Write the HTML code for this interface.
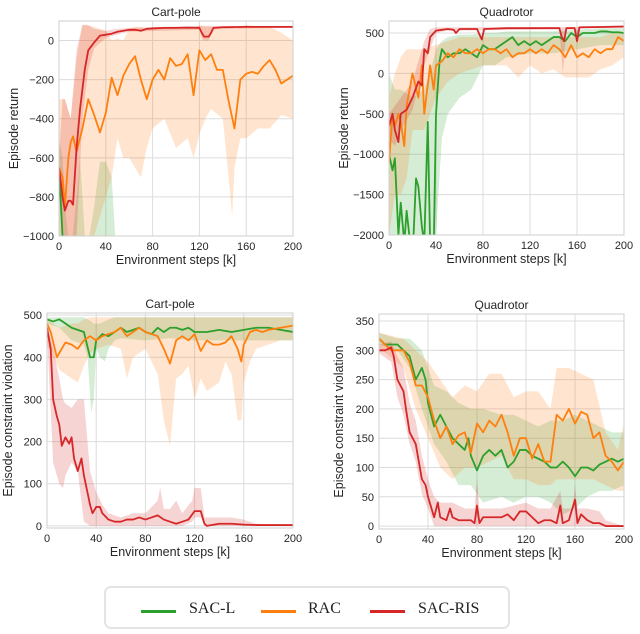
<!DOCTYPE html>
<html><head><meta charset="utf-8">
<style>
body{margin:0;background:#fff;width:640px;height:634px;overflow:hidden;font-family:"Liberation Sans",sans-serif;}
svg text{font-family:"Liberation Sans",sans-serif;fill:#262626;}
#legend{position:absolute;left:104px;top:586px;width:406px;height:43px;border:2px solid #e4e4e4;border-radius:7px;box-sizing:border-box;}
.li{position:absolute;top:0;height:43px;}
.ln{position:absolute;top:22px;width:35px;height:3px;}
.lt{position:absolute;top:12px;font-family:"Liberation Serif",serif;font-size:16px;color:#222;white-space:nowrap;}
</style></head>
<body>
<svg id="chart" width="640" height="634" style="position:absolute;left:0;top:0"></svg>
<div id="legend">
  <div class="ln" style="left:35px;background:#2ca02c"></div>
  <div class="lt" style="left:83px">SAC-L</div>
  <div class="ln" style="left:155px;background:#ff7f0e"></div>
  <div class="lt" style="left:202px">RAC</div>
  <div class="ln" style="left:264px;background:#d62728"></div>
  <div class="lt" style="left:312px">SAC-RIS</div>
</div>
<script>
// ---------- Cart-pole return ----------
const tlRedX=[0,3,5,8,10,12,15,18,20,22,25,30,35,40,45,50,55,60,65,70,75,80,90,100,110,120,122,124,128,130,132,140,160,180,200];
const tlRedY=[-650,-800,-870,-820,-820,-840,-550,-350,-250,-150,-50,-10,25,30,35,45,50,55,55,50,60,62,65,65,66,65,40,20,20,40,65,68,70,70,70];
const tlRedBX=[0,3,5,10,15,20,25,30,40,50,60,120,123,128,131,140,200];
const tlRedLo=[-700,-1000,-1000,-1000,-1000,-400,-150,-40,15,30,45,55,0,0,55,60,65];
const tlRedHi=[-600,-300,-300,-400,-50,80,80,60,50,60,65,75,75,75,75,75,75];
const tlOrX=[0,3,5,8,10,12,15,20,25,30,35,40,45,50,55,60,65,70,75,80,85,90,95,100,105,110,115,120,125,130,135,140,145,150,155,160,165,170,175,180,185,190,195,200];
const tlOrY=[-650,-700,-850,-600,-520,-490,-570,-450,-300,-380,-470,-370,-190,-280,-180,-120,-80,-200,-300,-200,-150,-200,-90,-130,-120,-70,-280,-50,-100,-70,-150,-150,-310,-450,-200,-170,-160,-170,-130,-100,-150,-220,-200,-180];
const tlOrBX=[0,5,10,15,20,30,40,45,50,55,60,65,70,75,80,90,100,110,115,120,125,130,140,145,148,150,155,160,170,180,190,200];
const tlOrLo=[-1000,-1000,-1000,-1000,-1000,-1000,-800,-700,-500,-600,-600,-650,-700,-550,-450,-400,-550,-500,-600,-480,-400,-350,-400,-700,-900,-650,-500,-500,-450,-450,-380,-400];
const tlOrHi=[-300,-300,-400,-100,80,70,50,0,10,0,60,70,70,60,70,70,70,70,60,80,70,70,60,70,70,60,70,80,70,70,40,0];
const tlGrX=[0,3,5,200];
const tlGrY=[-650,-1000,-1200,-1500];
const tlGrBX=[0,3,6,10,15,18,22,26,30,35,40,45,48,50,200];
const tlGrLo=[-900,-1500,-1500,-1500,-1500,-1500,-1500,-1500,-1500,-1500,-1500,-1500,-1500,-1500,-1500];
const tlGrHi=[-500,-600,-900,-1100,-800,-600,-1000,-1000,-850,-620,-620,-700,-1000,-1100,-1500];
// ---------- Quadrotor return ----------
const trRedX=[0,3,5,8,10,15,20,25,28,30,33,35,40,45,50,55,57,60,75,77,79,81,90,100,120,145,147,149,151,158,160,162,180,200];
const trRedY=[-650,-500,-700,-850,-500,-450,-300,-100,-150,300,250,450,530,540,550,540,500,550,550,480,420,550,555,560,560,560,450,400,560,560,400,570,575,580];
const trRedBX=[0,5,10,20,30,35,40,50,60,145,148,151,158,160,163,200];
const trRedLo=[-800,-900,-700,-450,100,300,500,530,530,550,0,550,550,350,560,570];
const trRedHi=[-500,-400,-300,-100,400,550,570,570,570,575,575,575,575,575,585,590];
const trOrX=[0,3,5,8,10,13,15,20,25,28,30,35,38,40,45,50,55,60,65,70,75,80,85,90,95,100,105,110,115,120,125,130,135,140,145,150,155,160,165,170,175,180,185,190,195,200];
const trOrY=[-1100,-500,-650,-500,-600,-900,-400,0,-300,100,-500,100,-200,100,150,250,200,300,250,250,300,250,300,300,250,300,200,250,250,300,250,300,250,350,300,200,350,200,250,200,300,250,300,300,450,400];
const trOrBX=[0,5,10,15,20,30,40,50,60,70,80,90,100,110,120,130,140,150,160,170,180,190,200];
const trOrLo=[-2000,-1500,-1500,-1300,-700,-700,-300,-100,0,50,100,100,100,-50,100,0,50,-50,-50,-50,50,100,200];
const trOrHi=[-300,0,200,300,300,300,350,400,450,450,450,450,450,450,450,450,450,450,450,450,450,500,500];
const trGrX=[0,3,5,8,10,13,15,18,20,23,25,28,30,33,35,38,40,43,45,50,55,60,65,70,75,80,85,90,95,100,105,110,115,120,125,130,135,140,145,150,155,160,165,170,175,180,185,190,195,200];
const trGrY=[-1000,-1200,-1050,-2000,-1600,-2100,-1700,-2100,-2300,-1300,-1400,-1900,-2100,-600,-2100,-2200,-500,150,300,200,250,250,300,250,200,350,300,300,350,400,450,350,400,350,400,350,400,450,450,400,500,450,500,500,500,520,520,510,510,500];
const trGrBX=[0,5,10,20,30,35,40,45,50,60,70,80,90,100,120,140,160,180,200];
const trGrLo=[-2000,-2000,-2000,-2000,-2000,-2000,-2000,-800,-500,-300,-200,100,100,200,250,250,300,350,350];
const trGrHi=[0,-200,-200,-300,-200,0,300,400,450,480,480,500,500,520,520,520,540,560,560];
// ---------- Cart-pole violation ----------
const blGrX=[0,5,10,15,20,25,30,35,38,40,45,50,55,60,65,70,75,80,85,90,95,100,105,110,115,120,130,140,150,160,170,180,190,200];
const blGrY=[490,485,490,480,470,465,460,400,400,440,455,450,460,470,460,465,470,460,455,470,460,470,470,465,470,460,460,465,460,465,470,470,465,460];
const blGrBX=[0,10,20,30,33,36,38,40,43,47,50,55,60,80,100,120,140,160,180,200];
const blGrLo=[480,470,440,430,400,270,300,420,400,390,420,440,445,440,445,440,440,440,440,440];
const blGrHi=[495,495,495,495,490,485,480,480,480,485,490,495,495,495,495,495,495,495,495,495];
const blOrX=[0,3,8,12,15,20,25,30,35,40,45,50,55,60,65,70,75,80,85,90,95,100,105,110,115,120,125,130,135,140,145,150,155,158,160,165,170,175,180,190,200];
const blOrY=[480,460,400,420,435,430,420,440,450,440,450,455,460,470,450,460,470,460,455,450,420,385,440,450,440,455,415,440,430,430,435,450,420,390,430,460,465,460,465,470,475];
const blOrBX=[0,10,20,25,30,35,40,50,60,65,70,80,90,95,100,105,110,115,120,125,130,140,145,150,155,158,160,165,170,180,190,200];
const blOrLo=[430,370,350,340,380,410,420,430,420,350,400,420,360,250,190,350,360,380,300,350,320,340,390,360,250,250,340,390,420,430,440,440];
const blOrHi=[490,470,480,480,490,495,495,495,495,495,495,495,495,495,495,495,495,495,495,495,495,495,495,495,495,495,495,495,495,495,495,495];
const blRedX=[0,3,5,8,10,12,15,18,20,22,25,28,30,35,37,40,43,45,50,55,60,65,70,75,80,85,90,95,100,105,110,115,120,125,128,130,140,150,160,170,200];
const blRedY=[470,420,300,260,240,190,210,195,210,160,130,160,120,50,30,45,45,30,15,10,10,15,15,20,15,20,25,15,10,5,10,15,35,35,5,0,5,5,3,2,2];
const blRedBX=[0,5,10,13,15,20,25,30,35,40,45,50,60,70,80,90,92,95,100,105,110,118,120,125,128,140,150,160,170,200];
const blRedLo=[460,150,100,90,120,150,130,10,0,0,0,0,0,0,0,0,0,0,0,0,0,10,20,20,0,0,0,0,0,0];
const blRedHi=[475,420,350,300,290,280,300,300,130,80,50,30,20,30,30,60,90,40,40,60,30,60,90,90,20,20,20,15,5,2];
// ---------- Quadrotor violation ----------
const brRedX=[0,5,10,12,15,20,22,25,30,35,38,40,45,48,50,55,58,60,65,70,75,78,80,82,85,90,95,100,105,110,115,120,125,130,135,140,145,148,150,155,160,162,165,170,175,180,185,200];
const brRedY=[300,300,305,290,250,230,200,160,140,80,70,50,15,40,15,10,30,15,10,10,10,5,35,5,15,15,15,15,20,10,25,25,15,5,10,10,5,35,5,10,45,5,20,10,5,5,0,0];
const brRedBX=[0,10,15,20,25,30,35,40,45,50,60,70,78,80,82,90,100,110,120,130,140,148,150,158,160,162,170,180,185,200];
const brRedLo=[295,280,220,190,140,110,55,30,0,0,0,0,0,0,0,0,0,0,0,0,0,0,0,0,0,0,0,0,0,0];
const brRedHi=[310,315,290,270,210,180,120,80,50,40,40,30,30,80,30,30,30,35,40,30,30,60,30,30,70,30,30,25,10,0];
const brOrX=[0,5,10,15,20,25,30,35,40,45,50,55,60,65,70,75,80,85,90,95,100,105,110,115,120,125,130,135,140,145,150,155,160,165,170,175,180,185,190,195,200];
const brOrY=[320,310,300,300,300,280,240,240,220,180,150,170,140,155,160,125,175,160,180,170,190,160,120,150,150,115,140,110,110,190,180,200,175,195,190,150,160,120,110,95,110];
const brOrBX=[0,20,30,40,50,60,70,80,90,100,110,120,130,140,145,155,165,175,185,195,200];
const brOrLo=[305,270,200,150,100,80,100,100,110,120,80,80,70,70,80,80,80,80,70,60,60];
const brOrHi=[330,320,300,280,250,220,240,230,260,260,220,230,230,200,270,270,260,250,160,130,175];
const brGrX=[0,5,10,15,20,25,30,35,38,40,45,50,55,60,65,70,73,75,80,85,90,95,100,105,110,115,120,125,130,135,140,145,150,155,160,165,170,175,180,185,190,195,200];
const brGrY=[320,310,310,310,300,290,250,270,250,210,170,190,170,150,140,130,150,120,95,120,130,120,130,100,110,130,130,120,115,110,100,100,110,100,85,100,100,95,105,110,115,110,115];
const brGrBX=[0,15,25,35,45,55,65,75,85,100,110,120,130,140,150,160,170,180,190,200];
const brGrLo=[310,300,270,200,140,110,70,70,40,50,40,50,50,40,20,30,50,60,60,70];
const brGrHi=[330,320,320,300,240,230,210,200,200,190,190,180,170,180,180,190,180,170,160,160];
// tick labels
const xTicks=[0,40,80,120,160,200];
const tlYTicks=[-1000,-800,-600,-400,-200,0];
const trYTicks=[-2000,-1500,-1000,-500,0,500];
const blYTicks=[0,100,200,300,400,500];
const brYTicks=[0,50,100,150,200,250,300,350];

const NS='http://www.w3.org/2000/svg';
const svg=document.getElementById('chart');
function mk(tag,attrs,parent){const e=document.createElementNS(NS,tag);for(const k in attrs)e.setAttribute(k,attrs[k]);(parent||svg).appendChild(e);return e;}
const C={g:'#2ca02c',o:'#ff7f0e',r:'#d62728'};
function panel(id,cfg){
  const {x0,x1,yT,yB,d0,d1,yticks,title,ylabel,ylx,series}=cfg;
  const sx=v=>x0+(v/200)*(x1-x0);
  const sy=v=>yB-(v-d0)/(d1-d0)*(yB-yT);
  const g=mk('g',{});
  
  
  const cp=mk('clipPath',{id:id+'-clip'},g);
  mk('rect',{x:x0,y:yT,width:x1-x0,height:yB-yT},cp);
  xTicks.forEach(t=>{
    const l=mk('line',{x1:sx(t),x2:sx(t),y1:yT,y2:yB,stroke:'#dcdcdc','stroke-width':1},g);
    
    
    const tx=mk('text',{x:sx(t),y:yB+14,'text-anchor':'middle','font-size':11},g);
    
    
    tx.textContent=t;
  });
  yticks.forEach(t=>{
    const l=mk('line',{x1:x0,x2:x1,y1:sy(t),y2:sy(t),stroke:'#dcdcdc','stroke-width':1},g);
    
    
    const tx=mk('text',{x:x0-5,y:sy(t)+4,'text-anchor':'end','font-size':11},g);
    
    
    tx.textContent=String(t).replace('-','\u2212');
  });
  const dg=mk('g',{'clip-path':'url(#'+id+'-clip)'},g);
  series.forEach(s=>{
    let d='M'+s.bx.map((v,i)=>sx(v)+','+sy(s.hi[i])).join('L');
    for(let i=s.bx.length-1;i>=0;i--)d+='L'+sx(s.bx[i])+','+sy(s.lo[i]);
    const b=mk('path',{d:d+'Z',fill:C[s.c],'fill-opacity':0.2,stroke:'none'},dg);
    
    
  });
  series.forEach(s=>{
    const p=mk('path',{d:'M'+s.x.map((v,i)=>sx(v)+','+sy(s.y[i])).join('L'),fill:'none',stroke:C[s.c],'stroke-width':1.8,'stroke-linejoin':'round'},dg);
    
    
  });
  const fr=mk('rect',{x:x0,y:yT,width:x1-x0,height:yB-yT,fill:'none',stroke:'#cfcfcf','stroke-width':1},g);
  
  
  const tt=mk('text',{x:(x0+x1)/2,y:yT-5,'text-anchor':'middle','font-size':12},g);
  
  
  tt.textContent=title;
  const xl=mk('text',{x:(x0+x1)/2,y:yB+28,'text-anchor':'middle','font-size':12.5},g);
  
  
  xl.textContent='Environment steps [k]';
  const yc=(yT+yB)/2;
  const yl=mk('text',{x:ylx,y:yc,'text-anchor':'middle','font-size':12.5,transform:'rotate(-90 '+ylx+' '+yc+')'},g);
  
  
  yl.textContent=ylabel;
}
panel('cartpole-return',{x0:59,x1:293,yT:21,yB:236,d0:-1000,d1:100,yticks:tlYTicks,title:'Cart-pole',ylabel:'Episode return',ylx:18,series:[
 {n:'sac-l',c:'g',x:tlGrX,y:tlGrY,bx:tlGrBX,lo:tlGrLo,hi:tlGrHi},
 {n:'rac',c:'o',x:tlOrX,y:tlOrY,bx:tlOrBX,lo:tlOrLo,hi:tlOrHi},
 {n:'sac-ris',c:'r',x:tlRedX,y:tlRedY,bx:tlRedBX,lo:tlRedLo,hi:tlRedHi}]});
panel('quadrotor-return',{x0:389,x1:624,yT:21,yB:235,d0:-2000,d1:649,yticks:trYTicks,title:'Quadrotor',ylabel:'Episode return',ylx:348,series:[
 {n:'sac-l',c:'g',x:trGrX,y:trGrY,bx:trGrBX,lo:trGrLo,hi:trGrHi},
 {n:'rac',c:'o',x:trOrX,y:trOrY,bx:trOrBX,lo:trOrLo,hi:trOrHi},
 {n:'sac-ris',c:'r',x:trRedX,y:trRedY,bx:trRedBX,lo:trRedLo,hi:trRedHi}]});
panel('cartpole-violation',{x0:47,x1:293,yT:313,yB:528,d0:-5,d1:505,yticks:blYTicks,title:'Cart-pole',ylabel:'Episode constraint violation',ylx:12,series:[
 {n:'sac-l',c:'g',x:blGrX,y:blGrY,bx:blGrBX,lo:blGrLo,hi:blGrHi},
 {n:'rac',c:'o',x:blOrX,y:blOrY,bx:blOrBX,lo:blOrLo,hi:blOrHi},
 {n:'sac-ris',c:'r',x:blRedX,y:blRedY,bx:blRedBX,lo:blRedLo,hi:blRedHi}]});
panel('quadrotor-violation',{x0:379,x1:624,yT:314,yB:529,d0:-5,d1:362,yticks:brYTicks,title:'Quadrotor',ylabel:'Episode constraint violation',ylx:343,series:[
 {n:'sac-l',c:'g',x:brGrX,y:brGrY,bx:brGrBX,lo:brGrLo,hi:brGrHi},
 {n:'rac',c:'o',x:brOrX,y:brOrY,bx:brOrBX,lo:brOrLo,hi:brOrHi},
 {n:'sac-ris',c:'r',x:brRedX,y:brRedY,bx:brRedBX,lo:brRedLo,hi:brRedHi}]});
</script>
</body></html>
